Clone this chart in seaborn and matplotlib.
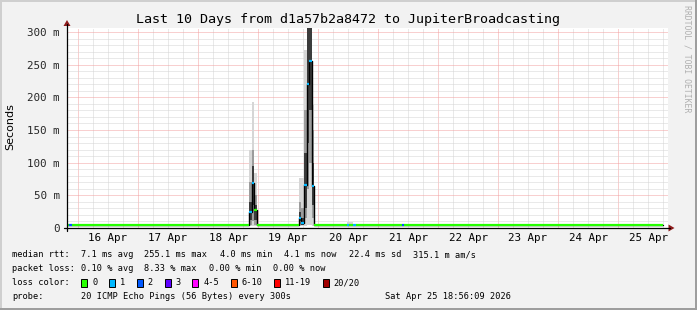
import numpy as np
import pandas as pd
import matplotlib
matplotlib.use("Agg")
import matplotlib.pyplot as plt
from matplotlib.patches import Rectangle, Polygon
from matplotlib.lines import Line2D
import matplotlib.transforms as mtransforms
import seaborn as sns

# ---------------- data ----------------
# segment boundaries in hours relative to 16 Apr 00:00
seg_edges_h = [-4.4, -3.6, -2.4, 68.2, 69.4, 70.4, 71.6, 88.4, 89.2, 90.2, 91.4,
               92.5, 93.5, 94.5, 107.6, 108.4, 110.0, 111.2, 129.6, 130.4, 234.0]
median_ms = [4.1, 4.1, 4.1, 25, 69, 27, 4.1, 16, 8, 66, 220,
             255.1, 65, 4.1, 4.1, 4.1, 4.1, 4.1, 4.1, 4.1]
loss_pings = [0, 2, 0, 1, 1, 0, 0, 1, 1, 1, 1,
              1, 1, 0, 1, 0, 1, 0, 2, 0]
smoke_min_ms = [3.9, 3.9, 3.9, 3, 3, 3, 3.9, 3, 3, 3, 5,
                5, 3, 3.9, 3.9, 3.9, 3.9, 3.9, 3.9, 3.9]
smoke_max_ms = [4.6, 4.6, 4.6, 119, 193, 84, 4.6, 76, 76, 272, 330,
                330, 188, 4.6, 9.6, 9.6, 6, 4.6, 5, 4.6]
smoke_mid_lo_ms = [4.0, 4.0, 4.0, 5, 10, 5, 4.0, 5, 4, 15, 60,
                   100, 15, 4.0, 4.0, 4.0, 4.0, 4.0, 4.0, 4.0]
smoke_mid_hi_ms = [4.3, 4.3, 4.3, 70, 120, 50, 4.3, 40, 30, 180, 330,
                   330, 150, 4.3, 5, 5, 4.3, 4.3, 4.3, 4.3]
smoke_dark_lo_ms = [4.0, 4.0, 4.0, 12, 35, 12, 4.0, 10, 5, 30, 130,
                    180, 35, 4.0, 4.0, 4.0, 4.0, 4.0, 4.0, 4.0]
smoke_dark_hi_ms = [4.2, 4.2, 4.2, 40, 95, 35, 4.2, 25, 15, 115, 330,
                    330, 100, 4.2, 4.2, 4.2, 4.2, 4.2, 4.2, 4.2]

day_label_hours = [12, 36, 60, 84, 108, 132, 156, 180, 204, 228]
day_labels = ["16 Apr", "17 Apr", "18 Apr", "19 Apr", "20 Apr",
              "21 Apr", "22 Apr", "23 Apr", "24 Apr", "25 Apr"]
y_tick_values = [0, 50, 100, 150, 200, 250, 300]
y_tick_labels = ["0", "50 m", "100 m", "150 m", "200 m", "250 m", "300 m"]

loss_legend_labels = ["0", "1", "2", "3", "4-5", "6-10", "11-19", "20/20"]
loss_legend_colors = ["#26ff00", "#00b8ff", "#0059ff", "#5e00ff",
                      "#ff00ff", "#ff5500", "#ff0000", "#a10000"]
loss_color_by_count = {0: "#26ff00", 1: "#00b8ff", 2: "#0059ff", 3: "#5e00ff"}

title_text = "Last 10 Days from d1a57b2a8472 to JupiterBroadcasting"
rtt_fields = ["7.1 ms avg", "255.1 ms max", "4.0 ms min", "4.1 ms now",
              "22.4 ms sd", "315.1 m am/s"]
loss_fields = ["0.10 % avg", "8.33 % max", "0.00 % min", "0.00 % now"]
probe_text = "20 ICMP Echo Pings (56 Bytes) every 300s"
stamp_text = "Sat Apr 25 18:56:09 2026"

# ---------------- figure ----------------
W, H = 697, 310
MONO = "DejaVu Sans Mono"
sns.set_style("white")
plt.rcParams["font.family"] = ["DejaVu Sans Mono", "DejaVu Sans"]

def fx(x):
    return x / W

def fy(y):
    return 1 - y / H

BG = "#f2f2f2"
fig = plt.figure(figsize=(W / 100, H / 100), dpi=100, facecolor=BG)

# 3D-ish border
for (x0, y0, w, h, c) in [(0, 0, W, 2, "#cfcfcf"), (0, 0, 2, H, "#cfcfcf"),
                          (0, H - 2, W, 2, "#9e9e9e"), (W - 2, 0, 2, H, "#9e9e9e")]:
    fig.patches.append(Rectangle((fx(x0), fy(y0 + h)), w / W, h / H,
                                 transform=fig.transFigure, color=c, lw=0, zorder=0))

L, R, T, B = 67, 668, 28, 228
ax = fig.add_axes([fx(L), fy(B), (R - L) / W, (B - T) / H])
ax.set_facecolor("white")
ax.set_xlim(-4.4, 236.0)
ax.set_ylim(0, 306.1)
for s in ax.spines.values():
    s.set_visible(False)

# grid
ax.set_axisbelow(True)
ax.set_xticks(np.arange(0, 236, 24))
ax.set_xticks(np.arange(-0, 236, 6), minor=True)
ax.set_yticks(y_tick_values, y_tick_labels)
ax.set_yticks(np.arange(0, 306, 10), minor=True)
ax.grid(which="minor", color="#d4d4d4", linestyle=(0, (1, 1)), linewidth=0.72)
ax.grid(which="major", color="#f3a0a0", linestyle=(0, (1, 1)), linewidth=0.72)
ax.set_xticklabels([])
ax.tick_params(axis="both", which="major", length=2.2, width=0.72, color="black",
               direction="out")
ax.tick_params(axis="both", which="minor", length=1.2, width=0.72, color="black",
               direction="out")
ax.tick_params(axis="y", which="major", pad=3.0, labelsize=7.8)
for t in ax.get_yticklabels():
    t.set_family(MONO)

edges = np.array(seg_edges_h, dtype=float)

def step_y(vals):
    v = list(vals)
    return np.array(v + [v[-1]], dtype=float)

# smoke
ax.fill_between(edges, step_y(smoke_min_ms), step_y(smoke_max_ms), step="post",
                color="#d6d6d6", lw=0, zorder=2)
ax.fill_between(edges, step_y(smoke_mid_lo_ms), step_y(smoke_mid_hi_ms), step="post",
                color="#9c9c9c", lw=0, zorder=2.1)
ax.fill_between(edges, step_y(smoke_dark_lo_ms), step_y(smoke_dark_hi_ms), step="post",
                color="#3c3c3c", lw=0, zorder=2.2)

# median: black connector step line + coloured loss segments
df = pd.DataFrame({"h": edges, "ms": step_y(median_ms)})
sns.lineplot(data=df, x="h", y="ms", ax=ax, estimator=None, sort=False,
             drawstyle="steps-post", color="black", linewidth=1.0, zorder=3)
ax.set_xlabel("")
ax.set_ylabel("")
seg_colors = [loss_color_by_count[c] for c in loss_pings]
ax.hlines(median_ms, edges[:-1], edges[1:], colors=seg_colors, linewidth=1.6,
          zorder=4, capstyle="butt")

# x tick labels (centred at noon)
trans = mtransforms.blended_transform_factory(ax.transData, ax.transAxes)
for hpos, lab in zip(day_label_hours, day_labels):
    ax.text(hpos, (B - 238) / (B - T), lab, transform=trans, ha="center", va="center",
            fontsize=7.8, family=MONO, color="black")

# axis lines with arrows
AR = "#8e1b1b"
fig.add_artist(Line2D([fx(64), fx(670)], [fy(B), fy(B)], color="black", lw=0.9,
                      transform=fig.transFigure))
fig.add_artist(Line2D([fx(L), fx(L)], [fy(231), fy(24)], color="black", lw=0.9,
                      transform=fig.transFigure))
fig.add_artist(Polygon([[fx(668.5), fy(224.5)], [fx(668.5), fy(231.5)], [fx(674.5), fy(B)]],
                       closed=True, color=AR, transform=fig.transFigure, lw=0))
fig.add_artist(Polygon([[fx(63.5), fy(26)], [fx(70.5), fy(26)], [fx(L), fy(20)]],
                       closed=True, color=AR, transform=fig.transFigure, lw=0))

# title and labels
fig.text(fx(348), fy(19), title_text, ha="center", va="center", fontsize=9.6,
         family=MONO, color="black")
fig.text(fx(10), fy(127), "Seconds", ha="center", va="center", rotation=90,
         fontsize=8.0, family="DejaVu Sans", color="black")
fig.text(fx(687), fy(59), "RRDTOOL / TOBI OETIKER", ha="center", va="center",
         rotation=-90, fontsize=5.9, family=MONO, color="#b0b0b0")

# legend block
LF = 6.25
def ltext(x, y, s):
    fig.text(fx(x), fy(y), s, ha="left", va="center", fontsize=LF, family=MONO,
             color="black")

ltext(12, 254.5, "median rtt:")
for xpos, s in zip([80.7, 144.3, 219.7, 284, 348.7, 413.3], rtt_fields):
    ltext(xpos, 254.5, s)
ltext(12, 268.5, "packet loss:")
for xpos, s in zip([80.7, 144.3, 209.3, 273.3], loss_fields):
    ltext(xpos, 268.5, s)
ltext(12, 282.5, "loss color:")
box_x = [81.3, 109, 136.7, 164.7, 192.3, 230.7, 274, 322.7]
lab_x = [92.3, 119.7, 147.3, 175.7, 203.3, 241.3, 284.7, 333.7]
for bx, lx, lab, col in zip(box_x, lab_x, loss_legend_labels, loss_legend_colors):
    fig.patches.append(Rectangle((fx(bx), fy(286.5)), 6 / W, 8 / H,
                                 transform=fig.transFigure, facecolor=col,
                                 edgecolor="black", lw=0.7))
    ltext(lx, 282.5, lab)
ltext(12, 296.5, "probe:")
ltext(80.7, 296.5, probe_text)
ltext(385, 296.5, stamp_text)

fig.savefig("out.png", dpi=100, facecolor=BG)
